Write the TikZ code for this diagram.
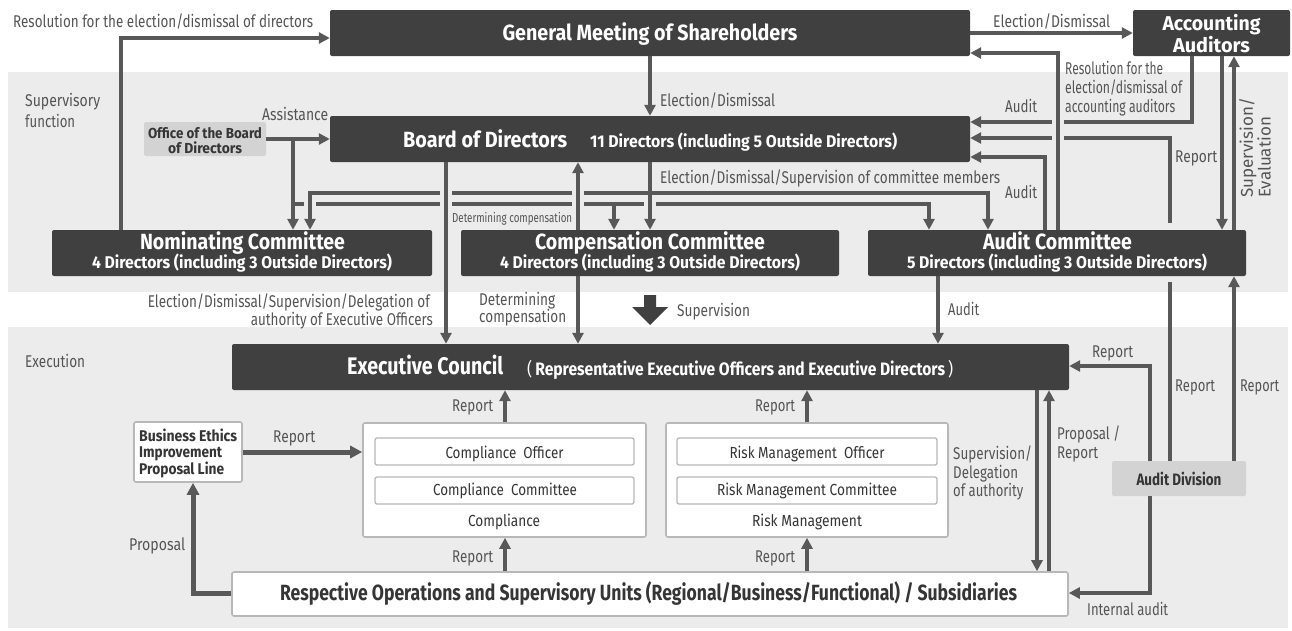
\documentclass[tikz,border=0pt]{standalone}
\usepackage{fontspec}
\usepackage{graphicx}
\setmainfont{Fira Sans}[FakeStretch=0.85]
\newfontfamily\widefont{Fira Sans}
\usetikzlibrary{arrows.meta,calc}
\definecolor{bandc}{HTML}{ECECEC}
\definecolor{darkc}{HTML}{404040}
\definecolor{arrowc}{HTML}{585858}
\definecolor{labelc}{HTML}{555555}
\definecolor{officec}{HTML}{D3D3D3}
\definecolor{borderc}{HTML}{B8B8B8}
\definecolor{textdark}{HTML}{353535}
\newlength\fitlen
\newcommand\fitto[2]{\settowidth{\fitlen}{#2}\pgfmathsetmacro\fitfac{#1/\fitlen}\scalebox{\fitfac}[1]{#2}}
\tikzset{
 darkbox/.style={fill=darkc, rounded corners=2pt, inner sep=0pt},
 whitebox/.style={fill=white, draw=borderc, line width=1.6pt, rounded corners=2pt, inner sep=0pt},
 innerbox/.style={fill=white, draw=borderc, line width=1.3pt, rounded corners=2pt, inner sep=0pt},
 greybox/.style={fill=officec, rounded corners=2pt, inner sep=0pt},
 ttl/.style={inner sep=0pt, anchor=base, text=white},
 dtxt/.style={inner sep=0pt, anchor=base, text=textdark},
 lbl/.style={inner sep=0pt, anchor=base west, text=labelc, font=\fontsize{17}{19}\selectfont},
 arr/.style={draw=arrowc, line width=3.5pt, -{Triangle[length=11pt,width=11pt]}},
 arrthick/.style={draw=arrowc, line width=5pt, -{Triangle[length=12pt,width=12pt]}},
 ln/.style={draw=arrowc, line width=3.5pt},
}
\begin{document}
\begin{tikzpicture}[x=1pt,y=-1pt]
\useasboundingbox (0,0) rectangle (1292,630);
\fill[bandc] (8,72) rectangle (1288,292);
\fill[bandc] (8,327) rectangle (1288,628);

% ---------- boxes
\node[darkbox, minimum width=640pt, minimum height=46pt] (gms) at (650,33) {};
\node[darkbox, minimum width=157pt, minimum height=46pt] (aa) at (1211.5,33) {};
\node[darkbox, minimum width=640pt, minimum height=46pt] (bod) at (650,139) {};
\node[greybox, minimum width=122pt, minimum height=34pt] (office) at (205,139) {};
\node[darkbox, minimum width=380pt, minimum height=46pt] (nom) at (242,253) {};
\node[darkbox, minimum width=378pt, minimum height=46pt] (comp) at (650,253) {};
\node[darkbox, minimum width=378pt, minimum height=46pt] (audc) at (1057,253) {};
\node[darkbox, minimum width=837pt, minimum height=46pt] (exec) at (650.5,367) {};
\node[whitebox, minimum width=108pt, minimum height=60pt] (ethics) at (188,452) {};
\node[whitebox, minimum width=283pt, minimum height=114pt] (compl) at (504.5,480) {};
\node[innerbox, minimum width=259pt, minimum height=27pt] (complo) at (504.5,451.5) {};
\node[innerbox, minimum width=259pt, minimum height=27pt] (complc) at (504.5,490.5) {};
\node[whitebox, minimum width=282pt, minimum height=114pt] (risk) at (807,480) {};
\node[innerbox, minimum width=260pt, minimum height=27pt] (risko) at (807,451.5) {};
\node[innerbox, minimum width=260pt, minimum height=27pt] (riskc) at (807,490.5) {};
\node[whitebox, minimum width=836pt, minimum height=44pt] (resp) at (650,594) {};
\node[greybox, minimum width=134pt, minimum height=35pt] (auddiv) at (1179,478.5) {};

% ---------- box texts
\node[ttl, font=\bfseries\fontsize{22}{26}\selectfont] (gmst) at (650,40) {\fitto{295}{General Meeting of Shareholders}};
\node[ttl, font=\bfseries\fontsize{20}{24}\selectfont] (aat1) at (1211.5,30) {\fitto{98}{Accounting}};
\node[ttl, font=\bfseries\fontsize{20}{24}\selectfont] (aat2) at (1211.5,52) {\fitto{77}{Auditors}};
\node[ttl, anchor=base west, font=\bfseries\fontsize{22}{26}\selectfont] (bodt) at (403,147) {\fitto{164}{Board of Directors}};
\node[ttl, anchor=base west, font=\bfseries\fontsize{17}{20}\selectfont] (bods) at (590,147) {\fitto{307}{11 Directors (including 5 Outside Directors)}};
\node[dtxt, font=\bfseries\fontsize{14.5}{16}\selectfont] (offt1) at (205,138) {\fitto{114}{Office of the Board}};
\node[dtxt, font=\bfseries\fontsize{14.5}{16}\selectfont] (offt2) at (205,153) {\fitto{74}{of Directors}};
\node[ttl, font=\bfseries\fontsize{22}{26}\selectfont] (nomt) at (242.5,249) {\fitto{205}{Nominating Committee}};
\node[ttl, font=\bfseries\fontsize{17}{20}\selectfont] (noms) at (242,268) {\fitto{300}{4 Directors (including 3 Outside Directors)}};
\node[ttl, font=\bfseries\fontsize{22}{26}\selectfont] (compt) at (650,249) {\fitto{230}{Compensation Committee}};
\node[ttl, font=\bfseries\fontsize{17}{20}\selectfont] (comps) at (650,268) {\fitto{300}{4 Directors (including 3 Outside Directors)}};
\node[ttl, font=\bfseries\fontsize{22}{26}\selectfont] (audct) at (1057.5,249) {\fitto{149}{Audit Committee}};
\node[ttl, font=\bfseries\fontsize{17}{20}\selectfont] (audcs) at (1057,268) {\fitto{300}{5 Directors (including 3 Outside Directors)}};
\node[ttl, anchor=base west, font=\bfseries\fontsize{24}{28}\selectfont] (exect) at (347,374) {\fitto{156}{Executive Council}};
\node[ttl, anchor=base west, font=\bfseries\fontsize{18}{20}\selectfont] (execs) at (527,375) {\fitto{426}{{\mdseries(}\hspace{3pt}Representative Executive Officers and Executive Directors\hspace{3pt}{\mdseries)}}};
\node[dtxt, anchor=base west, font=\bfseries\fontsize{15.5}{17}\selectfont] (etht1) at (139,441) {\fitto{98}{Business Ethics}};
\node[dtxt, anchor=base west, font=\bfseries\fontsize{15.5}{17}\selectfont] (etht2) at (139,457) {\fitto{83}{Improvement}};
\node[dtxt, anchor=base west, font=\bfseries\fontsize{15.5}{17}\selectfont] (etht3) at (139,474) {\fitto{85}{Proposal Line}};
\node[dtxt, font=\fontsize{16}{18}\selectfont] (complot) at (504.5,458) {\fitto{118}{Compliance\ \ Officer}};
\node[dtxt, font=\fontsize{16}{18}\selectfont] (complct) at (505,495) {\fitto{144}{Compliance\ \ Committee}};
\node[dtxt, font=\fontsize{16}{18}\selectfont] (complt) at (504,526) {\fitto{72}{Compliance}};
\node[dtxt, font=\fontsize{16}{18}\selectfont] (riskot) at (807,458) {\fitto{155}{Risk Management\ \ Officer}};
\node[dtxt, font=\fontsize{16}{18}\selectfont] (riskct) at (807,495) {\fitto{180}{Risk Management Committee}};
\node[dtxt, font=\fontsize{16}{18}\selectfont] (riskt) at (807,526) {\fitto{110}{Risk Management}};
\node[dtxt, font=\bfseries\fontsize{22}{26}\selectfont] (respt) at (648.5,600) {\fitto{737}{Respective Operations and Supervisory Units (Regional/Business/Functional) / Subsidiaries}};
\node[dtxt, font=\bfseries\fontsize{16.5}{18}\selectfont] (auddivt) at (1179,485) {\fitto{85}{Audit Division}};

% ---------- connectors: office -> committees (under)
\draw[arr] (office.east) -- (bod.west |- office.east);
\draw[arr] (office.east -| 293,0) -- (nom.north -| 293,0);
\coordinate (oj) at (293,204);
\draw[arr] (oj) -| (audc.north -| 929,0);
\coordinate (oc) at (614,204);
\draw[arr] (oc) -- (comp.north -| 614,0);
\foreach \x in {310,446,578,650} \fill[bandc] (\x-6,200) rectangle (\x+6,208);
% board -> committees
\coordinate (bj) at (650,193);
\draw[arr] (bj) -| (nom.north -| 310,0);
\draw[arr] (bj) -| (audc.north -| 988,0);
\foreach \x in {446,578} \fill[bandc] (\x-6,189) rectangle (\x+6,197);
\draw[arr] (bod.south) -- (comp.north);
\draw[arr] (bod.south -| 446,0) -- (exec.north -| 446,0);
\draw[arr] (comp.north -| 578,0) -- (bod.south -| 578,0);
\draw[arr] (comp.south -| 578,0) -- (exec.north -| 578,0);
\draw[arr] (gms.south) -- (bod.north);
\draw[arr] (nom.north -| 121,0) |- (gms.west |- 0,38);
\draw[arr] (gms.east) -- (aa.west);

% right side
\draw[arr] (aa.south -| 1192,0) |- (bod.east |- 0,122);
\draw[ln] (auddiv.north -| 1170,0) -- (1170,282);
\coordinate (rtop) at (1170,223);
\draw[arr] (rtop) |- (bod.east |- 0,138);
\foreach \y in {122,138} \fill[bandc] (1052,\y-4) rectangle (1064,\y+4);
\draw[arr] (audc.north -| 1058,0) |- (gms.east |- 0,53);
\draw[arr] (audc.north -| 1045,0) |- (bod.east |- 0,157);
\draw[arr] (aa.south -| 1222,0) -- (audc.north -| 1222,0);
\draw[arr] (audc.north -| 1234,0) -- (aa.south -| 1234,0);
\draw[arr] (auddiv.north -| 1234,0) -- (audc.south -| 1234,0);
\draw[arr] (auddiv.north -| 1150,0) |- (exec.east |- 0,366);
\draw[arr] (auddiv.south -| 1150,0) |- (resp.east |- 0,593);
\draw[arr] (audc.south -| 938,0) -- (exec.north -| 938,0);
\draw[arr] (exec.south -| 1037,0) -- (resp.north -| 1037,0);
\draw[arr] (resp.north -| 1049,0) -- (exec.south -| 1049,0);

% execution area
\draw[arrthick] (ethics.east) -- (compl.west |- ethics.east);
\draw[arrthick] (resp.west |- 0,593) -| (ethics.south -| 193,0);
\draw[arr] (resp.north -| 505,0) -- (compl.south -| 505,0);
\draw[arr] (compl.north -| 505,0) -- (exec.south -| 505,0);
\draw[arr] (resp.north -| 807,0) -- (risk.south -| 807,0);
\draw[arr] (risk.north -| 807,0) -- (exec.south -| 807,0);

% block arrow
\fill[darkc] (644,295) -- (656,295) -- (656,307) -- (668,307) -- (650,325) -- (632,307) -- (644,307) -- cycle;

% ---------- labels
\node[lbl] (l1) at (13,27) {\fitto{300}{Resolution for the election/dismissal of directors}};
\node[lbl] (l2) at (993,27) {\fitto{117}{Election/Dismissal}};
\node[lbl] (l3a) at (25,106) {\fitto{75}{Supervisory}};
\node[lbl] (l3b) at (25,127) {\fitto{50}{function}};
\node[lbl] (l4) at (262,120) {\fitto{66}{Assistance}};
\node[lbl] (l5) at (660,106) {\fitto{115}{Election/Dismissal}};
\node[lbl] (l6) at (660,183) {\fitto{340}{Election/Dismissal/Supervision of committee members}};
\node[lbl, font=\fontsize{13}{15}\selectfont] (l7) at (452,222) {\fitto{120}{Determining compensation}};
\node[lbl] (l8) at (1005,112) {\fitto{32}{Audit}};
\node[lbl] (l9a) at (1065,74) {\fitto{98}{Resolution for the}};
\node[lbl] (l9b) at (1065,93) {\fitto{117}{election/dismissal of}};
\node[lbl] (l9c) at (1065,112) {\fitto{110}{accounting auditors}};
\node[lbl] (l10) at (1175,162) {\fitto{42}{Report}};
\node[lbl] (l11) at (1005,198) {\fitto{32}{Audit}};
\node[lbl, anchor=center, rotate=90, align=left, font=\widefont\fontsize{17}{15}\selectfont] (l12) at (1255,148) {Supervision/\\Evaluation};
\node[lbl, anchor=base east] (l13a) at (430,307) {\fitto{282}{Election/Dismissal/Supervision/Delegation of}};
\node[lbl, anchor=base east] (l13b) at (433,325) {\fitto{182}{authority of Executive Officers}};
\node[lbl] (l14a) at (479,305) {\fitto{76}{Determining}};
\node[lbl] (l14b) at (479,322) {\fitto{87}{compensation}};
\node[lbl] (l15) at (677,316) {\fitto{73}{Supervision}};
\node[lbl] (l16) at (948,315) {\fitto{31}{Audit}};
\node[lbl] (l17) at (25,367) {\fitto{60}{Execution}};
\node[lbl] (l18) at (1092,357) {\fitto{41}{Report}};
\node[lbl] (l19) at (1175,391) {\fitto{40}{Report}};
\node[lbl] (l20) at (1240,391) {\fitto{39}{Report}};
\node[lbl] (l21) at (452,411) {\fitto{41}{Report}};
\node[lbl] (l22) at (755,411) {\fitto{40}{Report}};
\node[lbl] (l23a) at (953,459) {\fitto{79}{Supervision/}};
\node[lbl] (l23b) at (953,478) {\fitto{65}{Delegation}};
\node[lbl] (l23c) at (953,496) {\fitto{70}{of authority}};
\node[lbl] (l24a) at (1057,439) {\fitto{63}{Proposal /}};
\node[lbl] (l24b) at (1057,458) {\fitto{41}{Report}};
\node[lbl] (l25) at (273,442) {\fitto{42}{Report}};
\node[lbl] (l26) at (129,550) {\fitto{56}{Proposal}};
\node[lbl] (l27) at (452,562) {\fitto{41}{Report}};
\node[lbl] (l28) at (755,562) {\fitto{40}{Report}};
\node[lbl] (l29) at (1087,615) {\fitto{81}{Internal audit}};
\end{tikzpicture}
\end{document}
